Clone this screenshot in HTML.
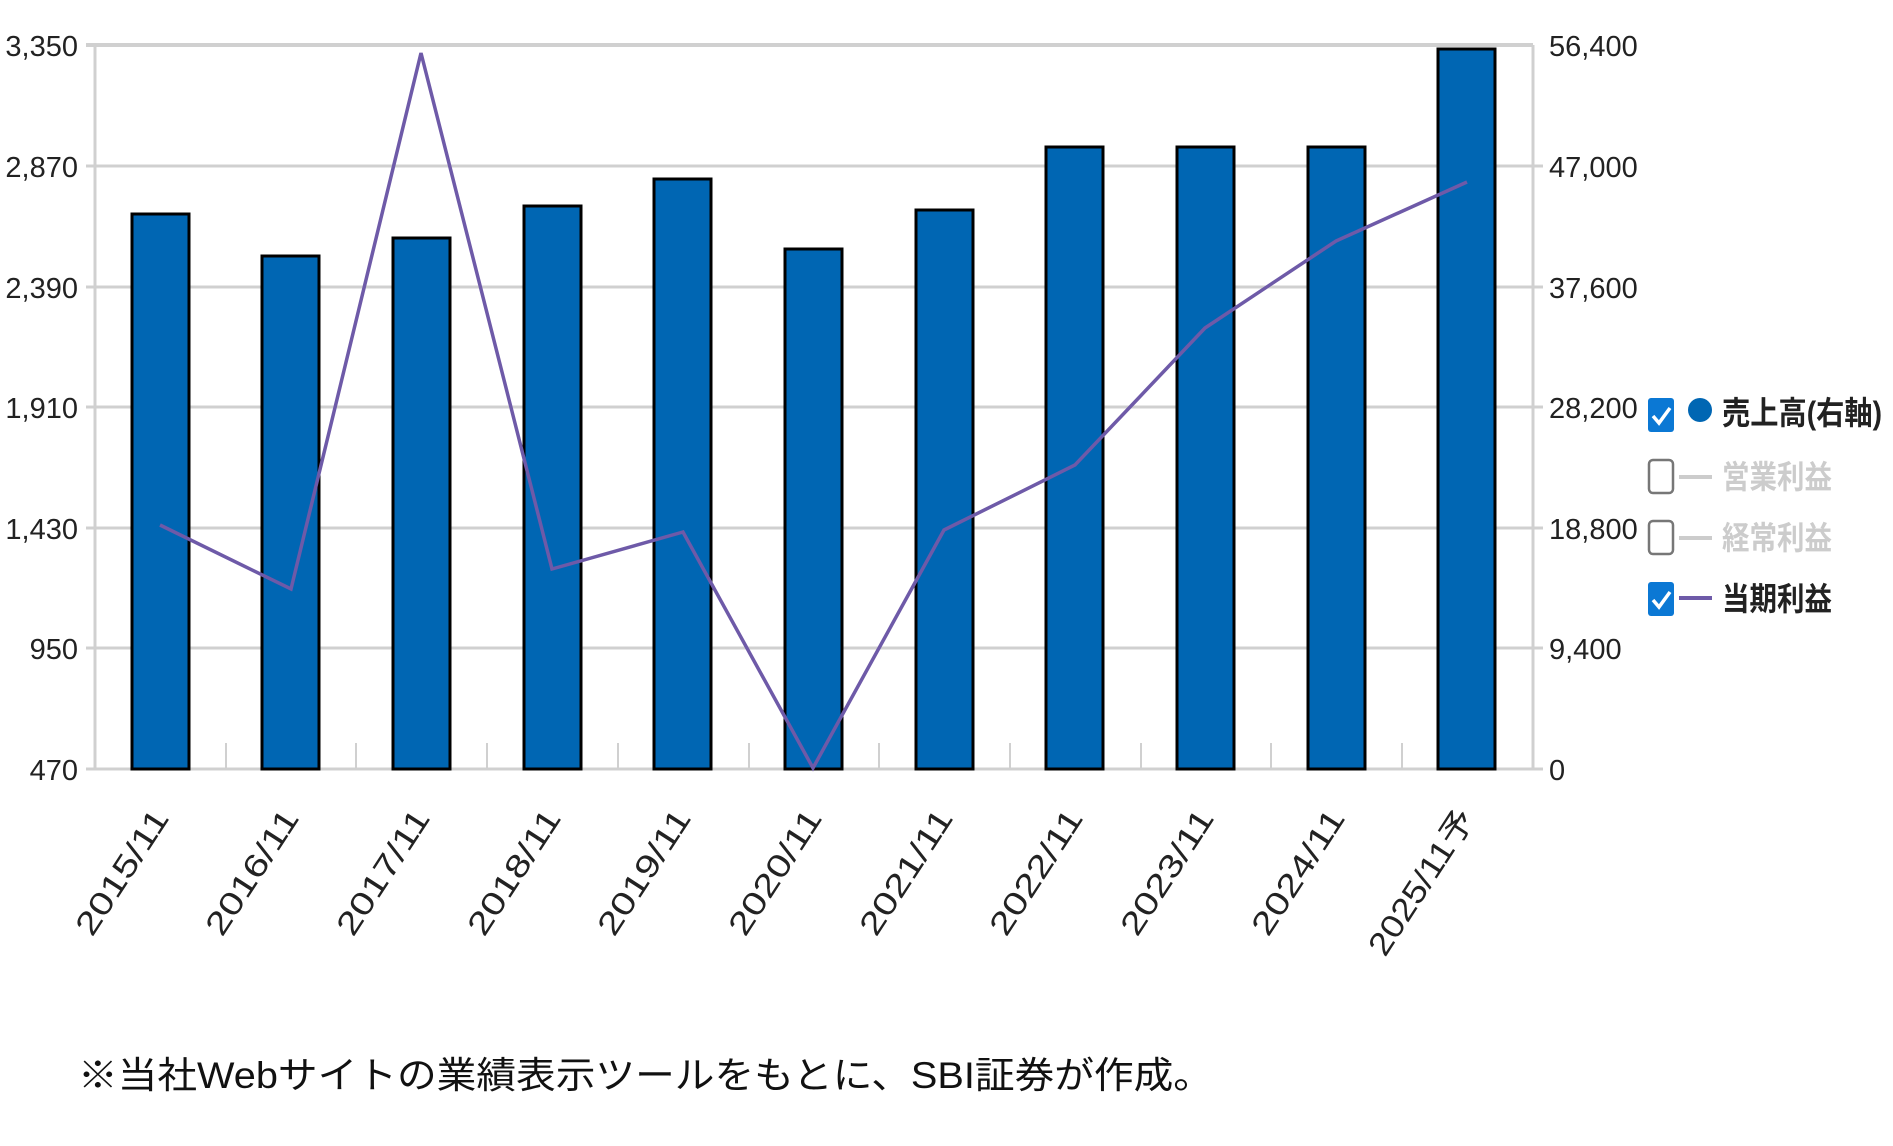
<!DOCTYPE html>
<html><head><meta charset="utf-8"><style>
html,body{margin:0;padding:0;background:#fff;}
svg{display:block;}
text{font-family:"Liberation Sans","Noto Sans CJK JP",sans-serif;}
</style></head><body>
<svg width="1893" height="1146" viewBox="0 0 1893 1146" xmlns="http://www.w3.org/2000/svg">
<g stroke="#d0d0d0" stroke-width="3">
<line x1="86" y1="45" x2="1533" y2="45" stroke-width="4"/>
<line x1="86" y1="166" x2="1543" y2="166"/>
<line x1="86" y1="287" x2="1543" y2="287"/>
<line x1="86" y1="407" x2="1543" y2="407"/>
<line x1="86" y1="528" x2="1543" y2="528"/>
<line x1="86" y1="648" x2="1543" y2="648"/>
<line x1="86" y1="769" x2="1543" y2="769"/>
<line x1="95" y1="45" x2="95" y2="769"/>
<line x1="1533" y1="45" x2="1533" y2="769"/>
</g>
<g stroke="#d0d0d0" stroke-width="2">
<line x1="226" y1="743" x2="226" y2="769"/><line x1="356" y1="743" x2="356" y2="769"/>
<line x1="487" y1="743" x2="487" y2="769"/><line x1="618" y1="743" x2="618" y2="769"/>
<line x1="749" y1="743" x2="749" y2="769"/><line x1="879" y1="743" x2="879" y2="769"/>
<line x1="1010" y1="743" x2="1010" y2="769"/><line x1="1141" y1="743" x2="1141" y2="769"/>
<line x1="1271" y1="743" x2="1271" y2="769"/><line x1="1402" y1="743" x2="1402" y2="769"/>
</g>
<g fill="#0066b3" stroke="#000" stroke-width="3">
<rect x="132" y="214" width="57" height="555"/>
<rect x="262" y="256" width="57" height="513"/>
<rect x="393" y="238" width="57" height="531"/>
<rect x="524" y="206" width="57" height="563"/>
<rect x="654" y="179" width="57" height="590"/>
<rect x="785" y="249" width="57" height="520"/>
<rect x="916" y="210" width="57" height="559"/>
<rect x="1046" y="147" width="57" height="622"/>
<rect x="1177" y="147" width="57" height="622"/>
<rect x="1308" y="147" width="57" height="622"/>
<rect x="1438" y="49" width="57" height="720"/>
</g>
<polyline fill="none" stroke="#6e5aa8" stroke-width="3.5" points="160,525 291,589 421,53 552,569 683,532 813,768 944,530 1075,465 1205,328 1336,241 1467,182"/>
<g font-size="29" fill="#222" text-anchor="end">
<text x="78" y="56">3,350</text><text x="78" y="177">2,870</text><text x="78" y="298">2,390</text>
<text x="78" y="418">1,910</text><text x="78" y="539">1,430</text><text x="78" y="659">950</text><text x="78" y="780">470</text>
</g>
<g font-size="29" fill="#222">
<text x="1549" y="56">56,400</text><text x="1549" y="177">47,000</text><text x="1549" y="298">37,600</text>
<text x="1549" y="418">28,200</text><text x="1549" y="539">18,800</text><text x="1549" y="659">9,400</text><text x="1549" y="780">0</text>
</g>
<g font-size="32" fill="#222" text-anchor="end">
<text transform="translate(170,818) rotate(-57)" textLength="143" lengthAdjust="spacingAndGlyphs">2015/11</text>
<text transform="translate(300,818) rotate(-57)" textLength="143" lengthAdjust="spacingAndGlyphs">2016/11</text>
<text transform="translate(431,818) rotate(-57)" textLength="143" lengthAdjust="spacingAndGlyphs">2017/11</text>
<text transform="translate(562,818) rotate(-57)" textLength="143" lengthAdjust="spacingAndGlyphs">2018/11</text>
<text transform="translate(692,818) rotate(-57)" textLength="143" lengthAdjust="spacingAndGlyphs">2019/11</text>
<text transform="translate(823,818) rotate(-57)" textLength="143" lengthAdjust="spacingAndGlyphs">2020/11</text>
<text transform="translate(954,818) rotate(-57)" textLength="143" lengthAdjust="spacingAndGlyphs">2021/11</text>
<text transform="translate(1084,818) rotate(-57)" textLength="143" lengthAdjust="spacingAndGlyphs">2022/11</text>
<text transform="translate(1215,818) rotate(-57)" textLength="143" lengthAdjust="spacingAndGlyphs">2023/11</text>
<text transform="translate(1346,818) rotate(-57)" textLength="143" lengthAdjust="spacingAndGlyphs">2024/11</text>
<text transform="translate(1476,818) rotate(-57)" textLength="167" lengthAdjust="spacingAndGlyphs">2025/11予</text>
</g>
<!-- legend -->
<rect x="1648" y="398" width="26" height="34" rx="3" fill="#0b78d4"/>
<path d="M1653 416 l6 7 l11 -15" fill="none" stroke="#fff" stroke-width="3.5"/>
<circle cx="1700" cy="410" r="12" fill="#0066b3"/>
<text x="1722" y="424" font-size="32" font-weight="bold" fill="#222" textLength="160" lengthAdjust="spacingAndGlyphs">売上高(右軸)</text>
<rect x="1649" y="460" width="24" height="33" rx="4" fill="#fff" stroke="#777" stroke-width="2.5"/>
<line x1="1679" y1="477" x2="1712" y2="477" stroke="#ccc" stroke-width="4"/>
<text x="1722" y="488" font-size="32" font-weight="bold" fill="#ccc" textLength="110" lengthAdjust="spacingAndGlyphs">営業利益</text>
<rect x="1649" y="521" width="24" height="33" rx="4" fill="#fff" stroke="#777" stroke-width="2.5"/>
<line x1="1679" y1="538" x2="1712" y2="538" stroke="#ccc" stroke-width="4"/>
<text x="1722" y="549" font-size="32" font-weight="bold" fill="#ccc" textLength="110" lengthAdjust="spacingAndGlyphs">経常利益</text>
<rect x="1648" y="582" width="26" height="34" rx="3" fill="#0b78d4"/>
<path d="M1653 600 l6 7 l11 -15" fill="none" stroke="#fff" stroke-width="3.5"/>
<line x1="1679" y1="598" x2="1712" y2="598" stroke="#6e5aa8" stroke-width="4"/>
<text x="1722" y="610" font-size="32" font-weight="bold" fill="#222" textLength="110" lengthAdjust="spacingAndGlyphs">当期利益</text>
<text x="78" y="1088" font-size="37" fill="#111" textLength="1135" lengthAdjust="spacingAndGlyphs">※当社Webサイトの業績表示ツールをもとに、SBI証券が作成。</text>
</svg>
</body></html>
